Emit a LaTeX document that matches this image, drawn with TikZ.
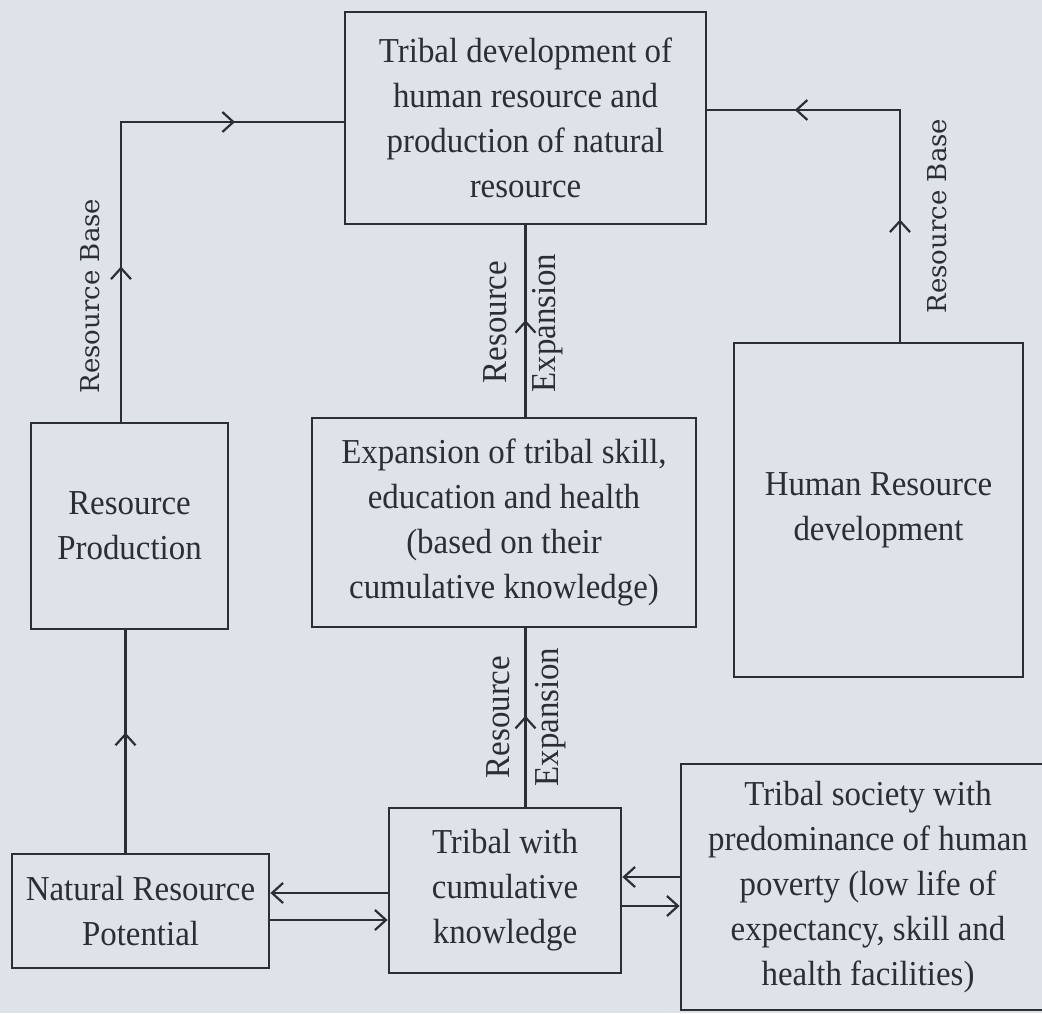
\documentclass[tikz,border=0pt]{standalone}
\usepackage{fontspec}
\setmainfont{Liberation Serif}[FakeStretch=0.94]
\newfontfamily\lblfont{DejaVu Serif}
\usetikzlibrary{arrows.meta,decorations.markings}
\definecolor{paper}{RGB}{222,226,233}
\definecolor{ink}{RGB}{44,46,52}
\tikzset{
  box/.style={draw=ink, line width=2.8pt, fill=paper, align=center, text=ink,
    font=\fontsize{35}{45}\selectfont, inner sep=4pt},
  conn/.style={draw=ink, line width=2.4pt},
  tip/.style={-{Straight Barb[length=11pt,width=20pt,line width=2.2pt]}},
  midarr/.style={postaction={decorate}, decoration={markings,
    mark=at position #1 with {\arrow{Straight Barb[length=11pt,width=20pt,line width=2.2pt]}}}},
  midarrs/.style 2 args={postaction={decorate}, decoration={markings,
    mark=at position #1 with {\arrow{Straight Barb[length=11pt,width=20pt,line width=2.2pt]}},
    mark=at position #2 with {\arrow{Straight Barb[length=11pt,width=20pt,line width=2.2pt]}}}},
  lbl/.style={text=ink, rotate=90, inner sep=0pt},
  lblbase/.style={lbl, font=\lblfont\fontsize{26}{26}\selectfont},
  lblres/.style={lbl, font=\fontsize{35}{35}\selectfont},
}
\begin{document}
\begin{tikzpicture}[x=1pt,y=1pt]
\clip (0,0) rectangle (1042,-1013);
\fill[paper] (0,0) rectangle (1042,-1013);

\node[box, minimum width=361, minimum height=212] (top) at (525.5,-118)
  {Tribal development of\\human resource and\\production of natural\\resource};
\node[box, minimum width=197, minimum height=206] (rp) at (129.5,-526)
  {Resource\\Production};
\node[box, minimum width=384, minimum height=209] (exp) at (504,-522.5)
  {Expansion of tribal skill,\\education and health\\(based on their\\cumulative knowledge)};
\node[box, minimum width=289, minimum height=334] (hrd) at (878.5,-510)
  {Human Resource\\development};
\node[box, minimum width=257, minimum height=114] (nrp) at (140.5,-911)
  {Natural Resource\\Potential};
\node[box, minimum width=232, minimum height=165] (tck) at (505,-890.5)
  {Tribal with\\cumulative\\knowledge};
\node[box, minimum width=374, minimum height=246] (ts) at (868,-887)
  {Tribal society with\\predominance of human\\poverty (low life of\\expectancy, skill and\\health facilities)};

% connectors
\draw[conn, midarrs={0.297}{0.792}] ([xshift=-8.5]rp.north) |- ([yshift=-4]top.west);
\draw[conn, midarrs={0.288}{0.794}] ([xshift=21.5]hrd.north) |- ([yshift=8]top.east);
\draw[conn, midarr=0.505] (exp.north -| top.south) -- (top.south);
\draw[conn, midarr=0.51] (tck.north -| top.south) -- (exp.south -| top.south);
\draw[conn, midarr=0.54] ([xshift=-4]nrp.north -| rp.south) -- ([xshift=-4]rp.south);

\draw[conn, tip] ([yshift=-2.5]tck.west) -- ([yshift=-2.5]tck.west -| nrp.east);
\draw[conn, tip] ([yshift=-29.5]tck.west -| nrp.east) -- ([yshift=-29.5]tck.west);
\draw[conn, tip] ([yshift=13.5]tck.east -| ts.west) -- ([yshift=13.5]tck.east);
\draw[conn, tip] ([yshift=-15.5]tck.east) -- ([yshift=-15.5]tck.east -| ts.west);

% labels
\node[lblbase] (lb1) at (90,-296) {Resource Base};
\node[lblbase] (lb2) at (937,-216) {Resource Base};
\node[lblres] (r1) at (495,-322) {Resource};
\node[lblres] (e1) at (548,-323) {Expansion};
\node[lblres] (r2) at (498,-717) {Resource};
\node[lblres] (e2) at (551,-717) {Expansion};
\end{tikzpicture}
\end{document}
